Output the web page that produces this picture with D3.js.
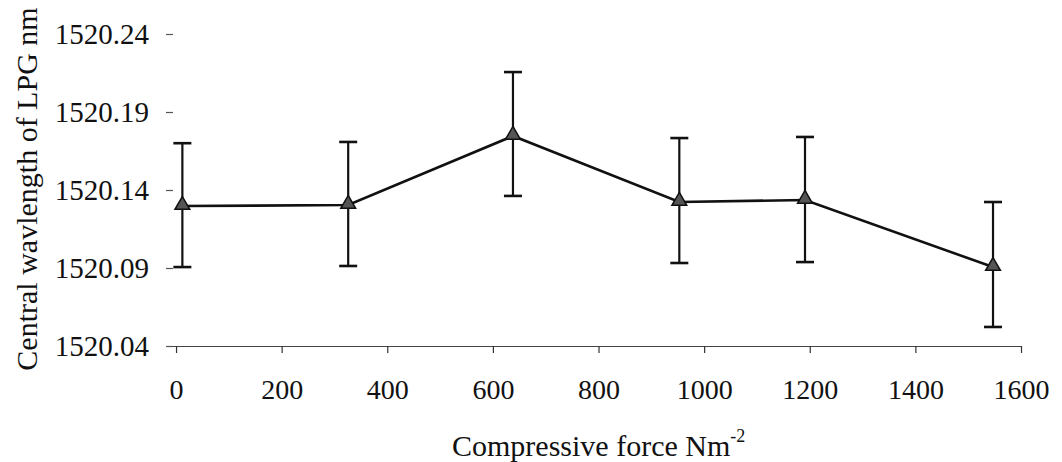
<!DOCTYPE html>
<html>
<head>
<meta charset="utf-8">
<script src="https://cdn.jsdelivr.net/npm/d3@7"></script>
<style>
  html, body { margin: 0; padding: 0; background: #fff; }
  svg { display: block; }
  text { font-family: "Liberation Serif", "Times New Roman", serif; fill: #111; }
</style>
</head>
<body>
<svg id="chart" width="1062" height="462"></svg>
<script>
// ---- data ----
const forces = [12, 326, 638, 953, 1191, 1547];
const wavelengths = [1520.1297, 1520.1304, 1520.1746, 1520.1323, 1520.1336, 1520.0906];
const upperErr = [1520.1700, 1520.1708, 1520.2156, 1520.1733, 1520.1740, 1520.1323];
const lowerErr = [1520.0906, 1520.0913, 1520.1362, 1520.0932, 1520.0938, 1520.0522];
const xTicks = [0, 200, 400, 600, 800, 1000, 1200, 1400, 1600];
const yTicks = [1520.04, 1520.09, 1520.14, 1520.19, 1520.24];
const xTitle = "Compressive force Nm";
const xTitleSup = "-2";
const yTitle = "Central wavlength of LPG nm";

// ---- layout ----
const svg = d3.select("#chart");
const x = d3.scaleLinear().domain([-19, 1600]).range([166, 1021]);
const y = d3.scaleLinear().domain([1520.04, 1520.24]).range([346, 34]);

// x axis
const xAxis = d3.axisBottom(x).tickValues(xTicks).tickSize(7).tickSizeOuter(0)
  .tickFormat(d3.format("d"));
const gx = svg.append("g").attr("transform", `translate(0,${y(1520.04)})`).call(xAxis);
gx.select(".domain").attr("stroke", "#444").attr("stroke-width", 1.2);
gx.selectAll(".tick line").attr("stroke", "#333").attr("stroke-width", 1.2);
gx.selectAll(".tick text").attr("font-size", 28).attr("dy", 0).attr("y", 53)
  .attr("font-family", "Liberation Serif").attr("fill", "#111");

// y axis (ticks only, no line)
const yAxis = d3.axisLeft(y).tickValues(yTicks).tickSize(7).tickPadding(17)
  .tickFormat(d3.format(".2f"));
const gy = svg.append("g").attr("transform", `translate(173,0)`).call(yAxis);
gy.select(".domain").remove();
gy.selectAll(".tick line").attr("stroke", "#555").attr("stroke-width", 1.2);
gy.selectAll(".tick text").attr("font-size", 29).attr("dy", "0.34em")
  .attr("font-family", "Liberation Serif").attr("fill", "#111");

// error bars
const capW = 9;
const eb = svg.append("g").attr("stroke", "#111").attr("stroke-width", 2.2);
forces.forEach((f, i) => {
  const cx = x(f);
  eb.append("line").attr("x1", cx).attr("x2", cx).attr("y1", y(upperErr[i])).attr("y2", y(lowerErr[i]));
  eb.append("line").attr("x1", cx - capW).attr("x2", cx + capW).attr("y1", y(upperErr[i])).attr("y2", y(upperErr[i])).attr("stroke-width", 2.6);
  eb.append("line").attr("x1", cx - capW).attr("x2", cx + capW).attr("y1", y(lowerErr[i])).attr("y2", y(lowerErr[i])).attr("stroke-width", 2.6);
});

// line
const pts = forces.map((f, i) => [f, wavelengths[i]]);
svg.append("path").datum(pts)
  .attr("fill", "none").attr("stroke", "#111").attr("stroke-width", 2.6)
  .attr("d", d3.line().x(d => x(d[0])).y(d => y(d[1])));

// markers
const tri = d3.symbol().type(d3.symbolTriangle).size(95);
svg.append("g").selectAll("path").data(pts).join("path")
  .attr("d", tri)
  .attr("transform", d => `translate(${x(d[0])},${y(d[1]) - 1})`)
  .attr("fill", "#555").attr("stroke", "#111").attr("stroke-width", 1.5);

// titles
const xt = svg.append("text").attr("x", 452).attr("y", 456).attr("font-size", 30);
xt.append("tspan").text(xTitle);
xt.append("tspan").text(xTitleSup).attr("font-size", 18).attr("dy", -14);

svg.append("text")
  .attr("transform", `translate(37,189) rotate(-90)`)
  .attr("text-anchor", "middle").attr("font-size", 30)
  .text(yTitle);
</script>
</body>
</html>
